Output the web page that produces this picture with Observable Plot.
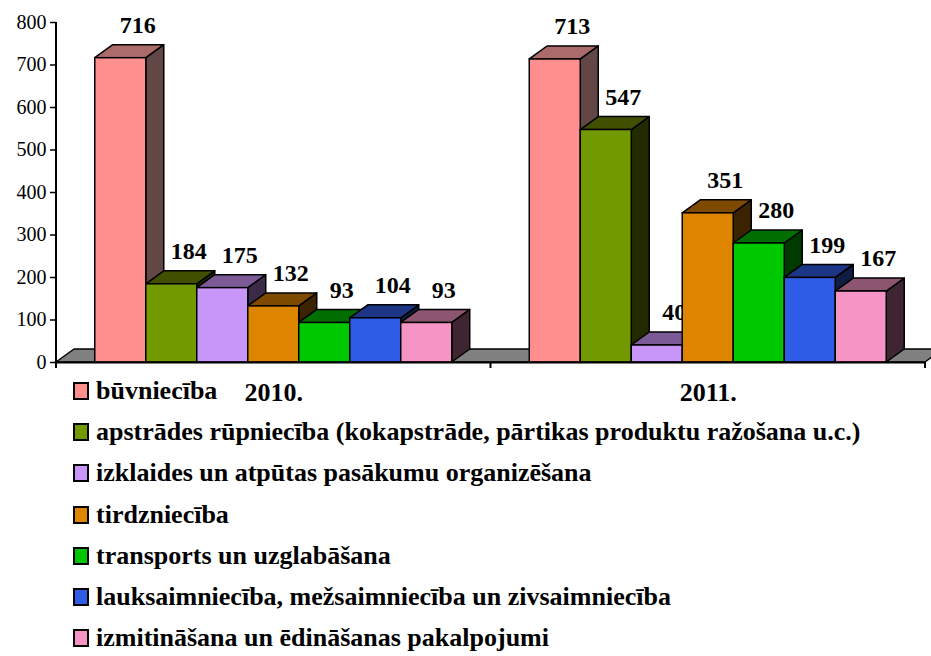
<!DOCTYPE html>
<html><head><meta charset="utf-8">
<script src="https://cdn.jsdelivr.net/npm/d3@7"></script>
<script src="https://cdn.jsdelivr.net/npm/@observablehq/plot@0.6"></script>
<style>
body{margin:0;background:#fff;}
#wrap{position:relative;width:931px;height:656px;overflow:hidden;font-family:'Liberation Serif','Times New Roman','DejaVu Serif',serif;}
#wrap svg text{font-family:'Liberation Serif','Times New Roman','DejaVu Serif',serif;}
#legend{position:absolute;left:73px;top:370px;}
.row{display:flex;align-items:center;height:41.3px;font-weight:bold;font-size:26px;line-height:1;white-space:nowrap;color:#000;}
.sw{width:12px;height:14px;border:2px solid #000;margin-right:7px;box-sizing:content-box;flex:none;}
</style></head><body><div id="wrap"></div>
<script>
const categories = [
  "būvniecība",
  "apstrādes rūpniecība (kokapstrāde, pārtikas produktu ražošana u.c.)",
  "izklaides un atpūtas pasākumu organizēšana",
  "tirdzniecība",
  "transports un uzglabāšana",
  "lauksaimniecība, mežsaimniecība un zivsaimniecība",
  "izmitināšana un ēdināšanas pakalpojumi"
];
const years = ["2010.", "2011."];
const values2010 = [716, 184, 175, 132, 93, 104, 93];
const values2011 = [713, 547, 40, 351, 280, 199, 167];
const frontColors = ["#FF8F8F", "#729900", "#C896F8", "#DD8500", "#00C800", "#2F5CE6", "#F794C6"];
const topColors   = ["#AB6B6B", "#415000", "#7B5A96", "#7D4A00", "#006E00", "#1D3585", "#8C5570"];
const sideColors  = ["#634747", "#222A00", "#3B2B48", "#3B2200", "#003A00", "#0F1C44", "#3E2531"];
const yTicks = [0, 100, 200, 300, 400, 500, 600, 700, 800];

const data = [];
years.forEach((yr, j) => categories.forEach((c, i) =>
  data.push({year: yr, cat: c, value: (j === 0 ? values2010 : values2011)[i]})));

const chart = Plot.plot({
  width: 931, height: 656,
  marginTop: 22, marginBottom: 294, marginLeft: 56, marginRight: 6,
  style: {fontSize: "20px", background: "transparent", color: "black"},
  fx: {domain: years, padding: 0, round: false},
  x: {domain: categories, paddingInner: 0, paddingOuter: 0.76, axis: null, round: false},
  y: {domain: [0, 800]},
  color: {domain: categories, range: frontColors},
  marks: [
    Plot.axisY({ticks: yTicks, tickSize: 6, tickPadding: 4, fontSize: 20, label: null, strokeWidth: 1.5}),
    Plot.axisFx({anchor: "bottom", tickSize: 0, tickPadding: 20, fontSize: 26, fontWeight: "bold", label: null}),
    Plot.text(data, {fx: "year", x: "cat", y: "value", text: d => String(d.value), dx: 17, dy: -33, fontSize: 24, fontWeight: "bold", fill: "black"}),
    Plot.barY(data, {fx: "year", x: "cat", y: "value", fill: "cat", stroke: "black", strokeWidth: 1.5}),
    Plot.ruleY([0], {strokeWidth: 2})
  ]
});

document.getElementById("wrap").appendChild(chart);

// 3D decoration derived from Plot's rendered bars and scales
const NS = "http://www.w3.org/2000/svg";
const DX = 18, DY = 13;
const svg = d3.select(chart);
const fxS = chart.scale("fx"), yS = chart.scale("y");
const y0 = yS.apply(0), yTop = yS.apply(800);
const xl = fxS.apply(years[0]), bw = fxS.bandwidth;
const xr = fxS.apply(years[years.length - 1]) + bw;

// floor
const textG = chart.querySelector('g[aria-label="text"]');
const floor = document.createElementNS(NS, "polygon");
floor.setAttribute("points", `${xl},${y0} ${xl + DX},${y0 - DY} ${xr + DX},${y0 - DY} ${xr},${y0}`);
floor.setAttribute("fill", "#808080");
floor.setAttribute("stroke", "#000");
floor.setAttribute("stroke-width", 1.5);
floor.setAttribute("stroke-linejoin", "round");
chart.insertBefore(floor, textG);

const colorIndex = new Map(frontColors.map((c, i) => [d3.color(c).formatHex(), i]));
svg.selectAll('g[aria-label="bar"] rect').each(function () {
  const x = +this.getAttribute("x"), y = +this.getAttribute("y");
  const w = +this.getAttribute("width"), h = +this.getAttribute("height");
  const f = this.getAttribute("fill") || this.parentNode.getAttribute("fill");
  const i = colorIndex.get(d3.color(f).formatHex()) ?? 0;
  const mk = (pts, fill) => {
    const p = document.createElementNS(NS, "polygon");
    p.setAttribute("points", pts.map(d => d.join(",")).join(" "));
    p.setAttribute("fill", fill);
    p.setAttribute("stroke", "#000");
    p.setAttribute("stroke-width", 1.5);
    p.setAttribute("stroke-linejoin", "round");
    return p;
  };
  const side = mk([[x + w, y], [x + w + DX, y - DY], [x + w + DX, y + h - DY], [x + w, y + h]], sideColors[i]);
  const top = mk([[x, y], [x + DX, y - DY], [x + w + DX, y - DY], [x + w, y]], topColors[i]);
  this.parentNode.insertBefore(side, this);
  this.parentNode.insertBefore(top, this);
});

// axis lines and category boundary ticks
const axisG = svg.append("g").attr("stroke", "#000").attr("stroke-width", 2);
axisG.append("line").attr("x1", xl).attr("x2", xl).attr("y1", yTop).attr("y2", y0 + 6);
years.forEach((yr) => {
  const xe = fxS.apply(yr) + bw;
  axisG.append("line").attr("x1", xe).attr("x2", xe).attr("y1", y0).attr("y2", y0 + 6);
});

// legend
const legend = document.createElement("div");
legend.id = "legend";
categories.forEach((c, i) => {
  const row = document.createElement("div");
  row.className = "row";
  const sw = document.createElement("span");
  sw.className = "sw";
  sw.style.background = frontColors[i];
  const t = document.createElement("span");
  t.textContent = c;
  row.appendChild(sw); row.appendChild(t);
  legend.appendChild(row);
});
document.getElementById("wrap").appendChild(legend);
</script></body></html>
